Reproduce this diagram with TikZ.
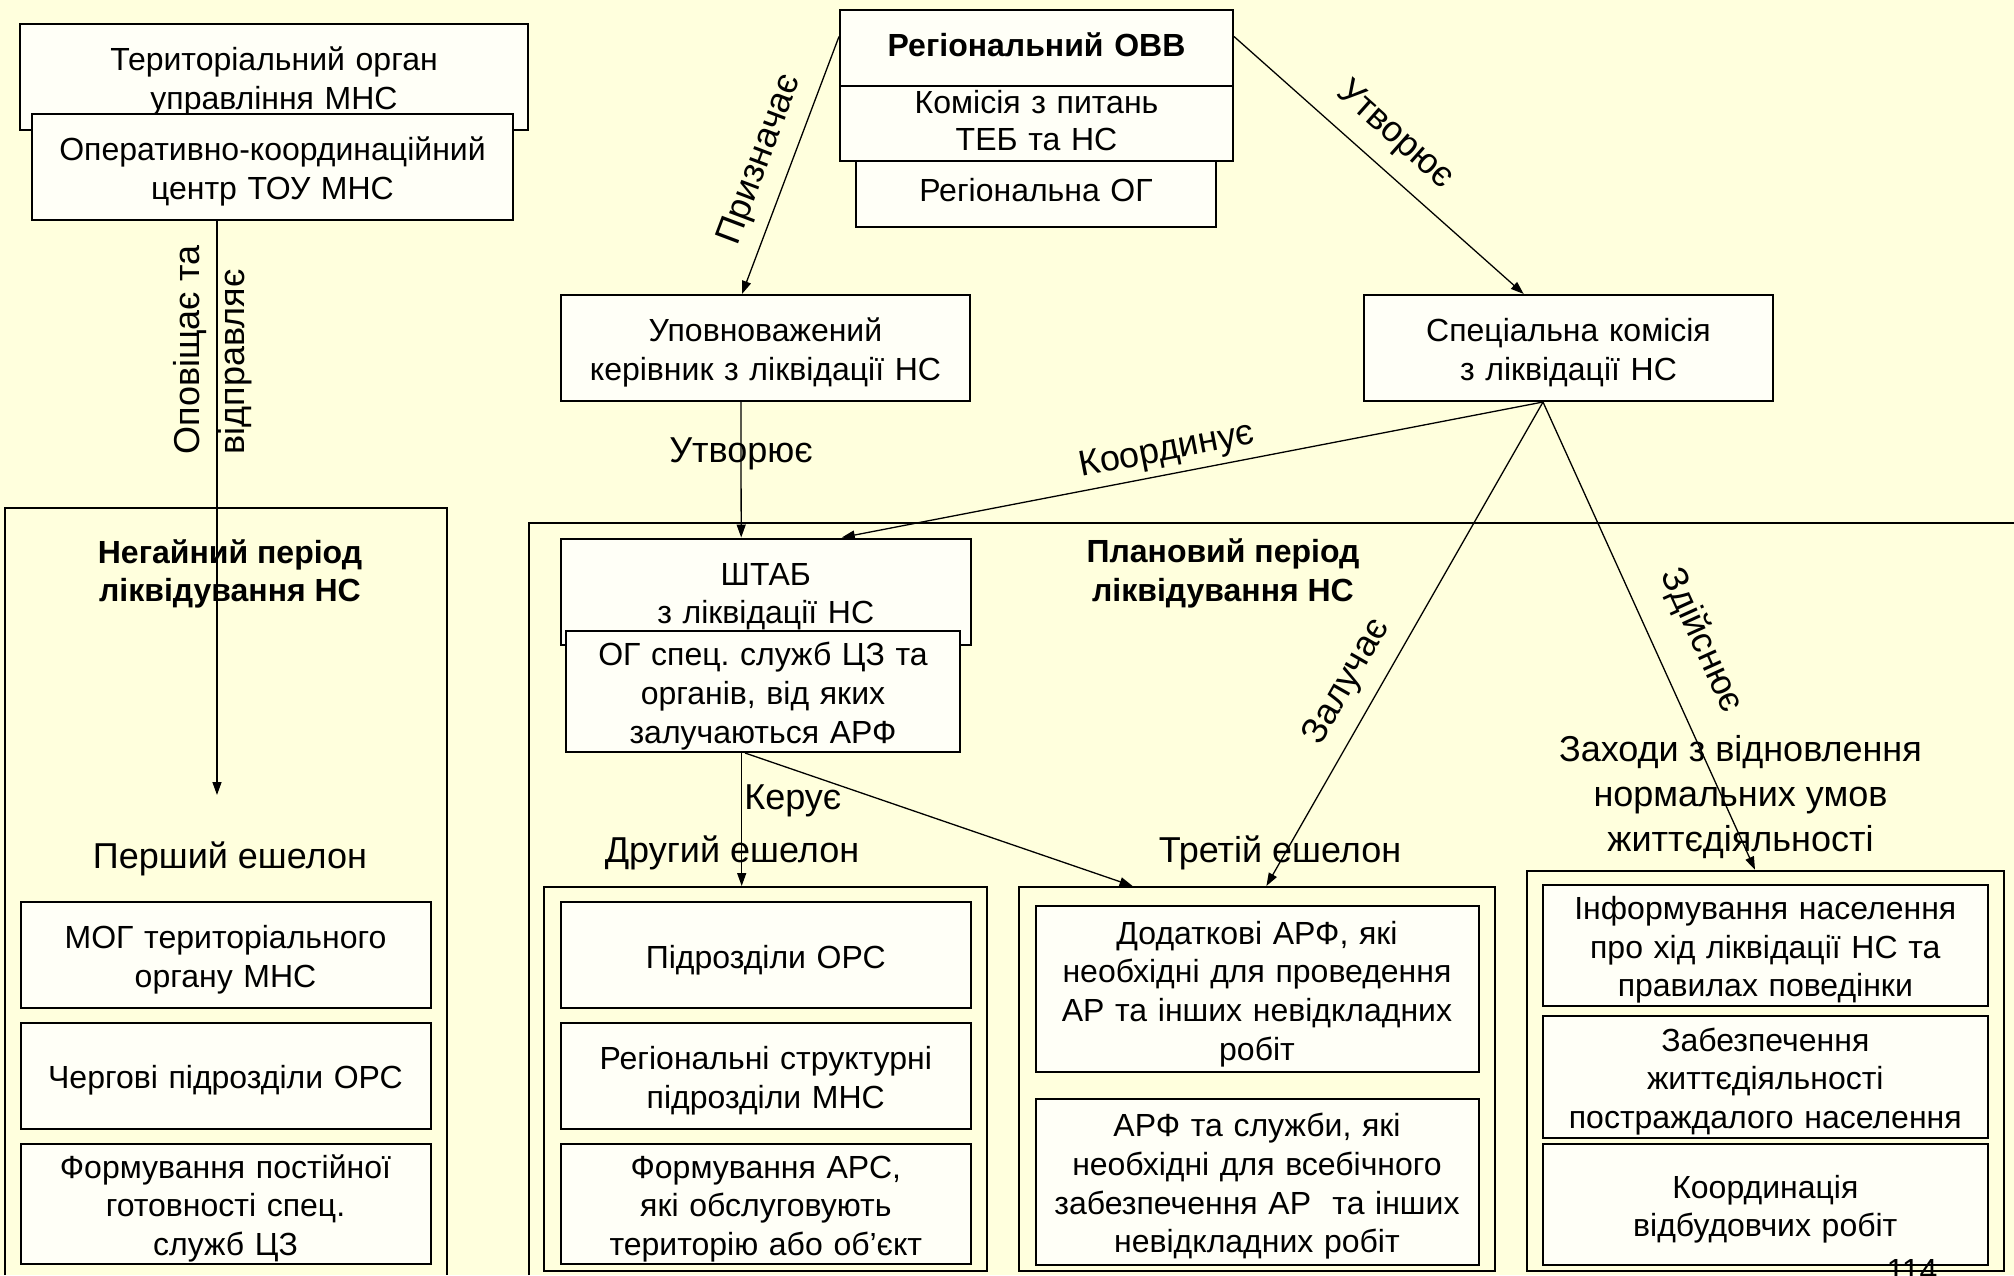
\documentclass[tikz,border=0pt]{standalone}
\usepackage{fontspec}
\setmainfont{Liberation Sans}
\usetikzlibrary{calc,arrows.meta}
\definecolor{cbg}{HTML}{FFFFDD}
\definecolor{cbox}{HTML}{FFFFF7}
\definecolor{cink}{HTML}{000000}
\newcommand\boxfnt{\fontsize{16}{19.3}\selectfont\frenchspacing}
\newcommand\lblfnt{\fontsize{18}{22.5}\selectfont}

\begin{document}
\begin{tikzpicture}[x=0.5pt, y=-0.5pt,
  plainbox/.style args={#1/#2}{draw=cink, line width=1pt, fill=cbox, align=center, inner xsep=0pt, inner ysep=0pt,
    text width=#1, minimum height=#2, font=\boxfnt},
  box/.style args={#1/#2}{plainbox=#1/#2,
    execute at begin node={\rule{0pt}{17pt}}, execute at end node={\rule[-4pt]{0pt}{4pt}}},
  grp/.style={draw=cink, line width=1pt, inner sep=0pt},
  period/.style={draw=cink, line width=1pt},
  arr/.style={draw=cink, line width=0.65pt, -{Triangle[length=6.5pt,width=4.5pt]}},
  lbl/.style={font=\lblfnt, inner sep=1pt, align=center},
  ttl/.style={font=\boxfnt\bfseries, align=center}]
\fill[cbg] (0,0) rectangle (2014,1275);
\useasboundingbox (0,0) rectangle (2014,1275);
%% ------------------------------------------------------------------ top row
\node[box=254pt/53pt] (terr) at (274,77) {Територіальний орган\\управління МНС};
\node[box=240.5pt/53pt] (okc) at (272.5,167) {Оперативно-координаційний\\центр ТОУ МНС};
% regional stack, back to front
\node[box=180pt/38.5pt] (rog) at (1036,188.5) {Регіональна ОГ};
\node[plainbox=196.5pt/38pt, font=\fontsize{16}{18.4}\selectfont,
  execute at end node={\rule[-2.6pt]{0pt}{0pt}}] (kom) at (1036.5,123) {Комісія з питань\\ТЕБ та НС};
\node[plainbox=196.5pt/38pt, font=\boxfnt\bfseries,
  execute at end node={\rule[-3.9pt]{0pt}{0pt}}] (ovv) at (1036.5,48) {Регіональний ОВВ};
\node[box=204.5pt/53pt] (upov) at (765.5,348) {Уповноважений\\керівник з ліквідації НС};
\node[box=204.5pt/53pt] (spec) at (1568.5,348) {Спеціальна комісія\\з ліквідації НС};
%% ------------------------------------------------------------------ periods
\draw[period] (5,1275) |- (446.5,508.4) -- (446.5,1275);
\draw[period] (529,1275) |- (2014,523);
\node[ttl] (negt) at (230,574) {Негайний період\\ліквідування НС};
\node[ttl] (plant) at (1223,573.5) {Плановий період\\ліквідування НС};
\node[box=205pt/53pt] (shtab) at (765.8,591.5) {ШТАБ\\з ліквідації НС};
\node[box=197pt/60.5pt] (ogs) at (763,691.5) {ОГ спец. служб ЦЗ та\\органів, від яких\\залучаються АРФ};
%% ------------------------------------------------------------------ echelons
\node[lbl] (e1) at (230,859) {Перший ешелон};
\node[lbl] (e2) at (732,853) {Другий ешелон};
\node[lbl] (e3) at (1280,853) {Третій ешелон};
\node[lbl] (e4) at (1740.5,797) {Заходи з відновлення\\нормальних умов\\життєдіяльності};
% first echelon
\node[box=205pt/53pt] (mog) at (225.5,955) {МОГ територіального\\органу МНС};
\node[box=205pt/53pt] (cherg) at (225.5,1075.8) {Чергові підрозділи ОРС};
\node[box=205pt/60pt] (fpost) at (225.5,1203.6) {Формування постійної\\готовності спец.\\служб ЦЗ};
% second echelon
\node[grp, minimum width=221.5pt, minimum height=192pt] (g2) at (765.5,1079) {};
\node[box=205pt/53pt] (pors) at (765.8,955) {Підрозділи ОРС};
\node[box=205pt/53pt] (rstr) at (765.8,1075.8) {Регіональні структурні\\підрозділи МНС};
\node[box=205pt/60pt] (fars) at (765.8,1203.6) {Формування АРС,\\які обслуговують\\територію або об’єкт};
% third echelon
\node[grp, minimum width=237.6pt, minimum height=192pt] (g3) at (1257,1079) {};
\node[box=221.5pt/83.2pt] (dod) at (1257,989.2) {Додаткові АРФ, які\\необхідні для проведення\\АР та інших невідкладних\\робіт};
\node[box=221.5pt/83.2pt] (arf) at (1257,1181.8) {АРФ та служби, які\\необхідні для всебічного\\забезпечення АР~ та інших\\невідкладних робіт};
% restoring measures
\node[grp, minimum width=238.3pt, minimum height=200.2pt] (g4) at (1765.3,1070.9) {};
\node[box=222.2pt/60.5pt] (inf) at (1765.3,945.2) {Інформування населення\\про хід ліквідації НС та\\правилах поведінки};
\node[box=222.2pt/61pt] (zab) at (1765.3,1076.7) {Забезпечення\\життєдіяльності\\постраждалого населення};
\node[box=222.2pt/60.7pt] (koord) at (1765.3,1204.3) {Координація\\відбудовчих робіт};
\node[font=\boxfnt, anchor=base] (pg) at (1912,1281) {114};
%% ------------------------------------------------------------------ connectors
\coordinate (oend) at (217,795);
\draw[arr] (okc.south -| oend) -- (oend);
\node[lbl, rotate=90, align=left] (olbl) at (213,350) {Оповіщає та\\відправляє};
\draw[arr] ([yshift=5.75pt]ovv.west) -- node[lbl, sloped, above=5.5pt, pos=.52] (l1) {Призначає} ([xshift=-11.75pt]upov.north);
\draw[arr] ([yshift=5.75pt]ovv.east) -- node[lbl, sloped, above=7pt, pos=.48] (l2) {Утворює} ([xshift=-22.4pt]spec.north);
\draw[arr] ([xshift=-12.3pt]upov.south) -- node[lbl, pos=.38] (l3) {Утворює} ([xshift=-12.3pt]shtab.north);
\draw[arr] ([xshift=-12.75pt]spec.south) -- node[lbl, sloped, above=2pt, pos=.53] (l4) {Координує} ([xshift=38pt]shtab.north);
\draw[arr] ([xshift=-12.75pt]spec.south) -- node[lbl, sloped, above=6pt, pos=.61] (l5) {Залучає} ([xshift=4.7pt]g3.north);
\draw[arr] ([xshift=-12.75pt]spec.south) -- node[lbl, sloped, above=13pt, pos=.55] (l6) {Здійснює} ([xshift=-5.15pt]g4.north);
\draw[arr] ([xshift=-10.65pt]ogs.south) -- node[lbl, pos=.36, anchor=west] (l7) {Керує} ([xshift=-11.9pt]g2.north);
\draw[arr] ([xshift=-9pt]ogs.south) -- ([xshift=-62.2pt]g3.north);
\end{tikzpicture}
\end{document}
